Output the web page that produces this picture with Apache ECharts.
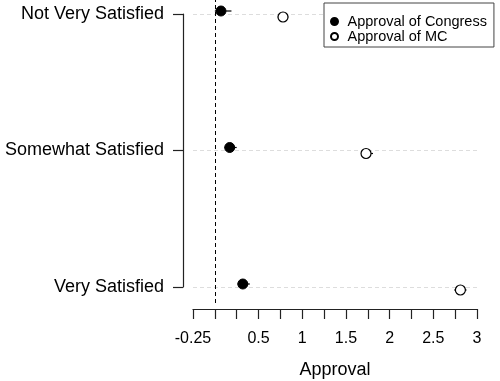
<!DOCTYPE html>
<html>
<head>
<meta charset="utf-8">
<script src="https://cdn.jsdelivr.net/npm/echarts@6/dist/echarts.min.js"></script>
<style>
  html, body { margin: 0; padding: 0; background: #fff; }
  #main { width: 500px; height: 381px; }
</style>
</head>
<body>
<div id="main"></div>
<script>
// categories bottom to top
const categories = ['Very Satisfied', 'Somewhat Satisfied', 'Not Very Satisfied'];

const congress = [0.32, 0.17, 0.07];
const congressLow = [0.26, 0.11, 0.0];
const congressHigh = [0.40, 0.25, 0.19];

const mc = [2.81, 1.73, 0.78];
const mcLow = [2.74, 1.68, 0.72];
const mcHigh = [2.88, 1.81, 0.84];

const xTickLabels = ['-0.25', '0.5', '1', '1.5', '2', '2.5', '3'];

const font = "'Liberation Sans', Arial, sans-serif";

// horizontal whiskers, shifted a little so the two series don't overlap
function errorBars(low, high, shift) {
  return {
    type: 'custom',
    xAxisIndex: 0,
    yAxisIndex: 0,
    z: 1,
    silent: true,
    renderItem: function (params, api) {
      const a = api.coord([api.value(0), api.value(2)]);
      const b = api.coord([api.value(1), api.value(2)]);
      return {
        type: 'line',
        shape: { x1: a[0], y1: a[1] + shift, x2: b[0], y2: b[1] + shift },
        style: { stroke: '#000', lineWidth: 1.2 }
      };
    },
    encode: { x: [0, 1], y: 2 },
    data: categories.map((c, i) => [low[i], high[i], i])
  };
}

const chart = echarts.init(document.getElementById('main'));
chart.setOption({
  animation: false,
  backgroundColor: '#fff',
  textStyle: { fontFamily: font },
  legend: {
    data: [
      { name: 'Approval of Congress', icon: 'circle' },
      { name: 'Approval of MC', icon: 'circle' }
    ],
    orient: 'vertical',
    left: 324,
    top: 3,
    padding: [11, 7, 3, 6],
    itemWidth: 16,
    itemHeight: 7,
    itemGap: 0,
    borderColor: '#444',
    borderWidth: 1,
    backgroundColor: '#fff',
    z: 10,
    textStyle: { fontSize: 14.5, color: '#000', lineHeight: 15, fontFamily: font }
  },
  grid: [
    { left: 193, right: 23, top: 14, bottom: 94, outerBoundsMode: 'none' },
    // taller grid only for the reference line at 0
    { left: 193, right: 23, top: 0, bottom: 78, outerBoundsMode: 'none' }
  ],
  xAxis: [
    {
      type: 'value',
      gridIndex: 0,
      min: -0.25,
      max: 3,
      interval: 0.25,
      offset: 22,
      name: 'Approval',
      nameLocation: 'middle',
      nameGap: 52,
      nameTextStyle: { fontSize: 18, color: '#000', fontFamily: font },
      axisLine: { show: true, onZero: false, lineStyle: { color: '#222', width: 1.2 } },
      axisTick: { show: true, length: 10, lineStyle: { color: '#222', width: 1.2 } },
      axisLabel: {
        fontSize: 16,
        color: '#000',
        margin: 22,
        showMinLabel: true,
        showMaxLabel: true,
        formatter: function (v) {
          const s = String(Math.round(v * 100) / 100);
          return xTickLabels.indexOf(s) >= 0 ? s : '';
        }
      },
      splitLine: { show: false }
    },
    { type: 'value', gridIndex: 1, min: -0.25, max: 3, show: false }
  ],
  yAxis: [
    {
      type: 'category',
      gridIndex: 0,
      data: categories,
      boundaryGap: false,
      offset: 10,
      axisLine: { show: true, onZero: false, lineStyle: { color: '#222', width: 1.2 } },
      axisTick: { show: true, length: 10, lineStyle: { color: '#222', width: 1.2 } },
      axisLabel: { fontSize: 18, color: '#000', margin: 19 },
      splitLine: { show: true, lineStyle: { color: '#ddd', type: [4, 3], width: 1 } }
    },
    { type: 'value', gridIndex: 1, min: 0, max: 1, show: false }
  ],
  series: [
    {
      type: 'line',
      xAxisIndex: 1,
      yAxisIndex: 1,
      data: [],
      markLine: {
        silent: true,
        symbol: 'none',
        label: { show: false },
        lineStyle: { color: '#000', type: [4, 3], width: 1 },
        data: [{ xAxis: 0 }]
      }
    },
    errorBars(congressLow, congressHigh, -3),
    errorBars(mcLow, mcHigh, 3),
    {
      name: 'Approval of Congress',
      type: 'scatter',
      z: 3,
      symbol: 'circle',
      symbolSize: 10,
      symbolOffset: [0, -3],
      itemStyle: { color: '#000', borderColor: '#000', borderWidth: 1, opacity: 1 },
      data: categories.map((c, i) => [congress[i], c])
    },
    {
      name: 'Approval of MC',
      type: 'scatter',
      z: 3,
      symbol: 'circle',
      symbolSize: 10,
      symbolOffset: [0, 3],
      itemStyle: { color: '#fff', borderColor: '#000', borderWidth: 1.2, opacity: 1 },
      data: categories.map((c, i) => [mc[i], c])
    }
  ]
});
</script>
</body>
</html>
